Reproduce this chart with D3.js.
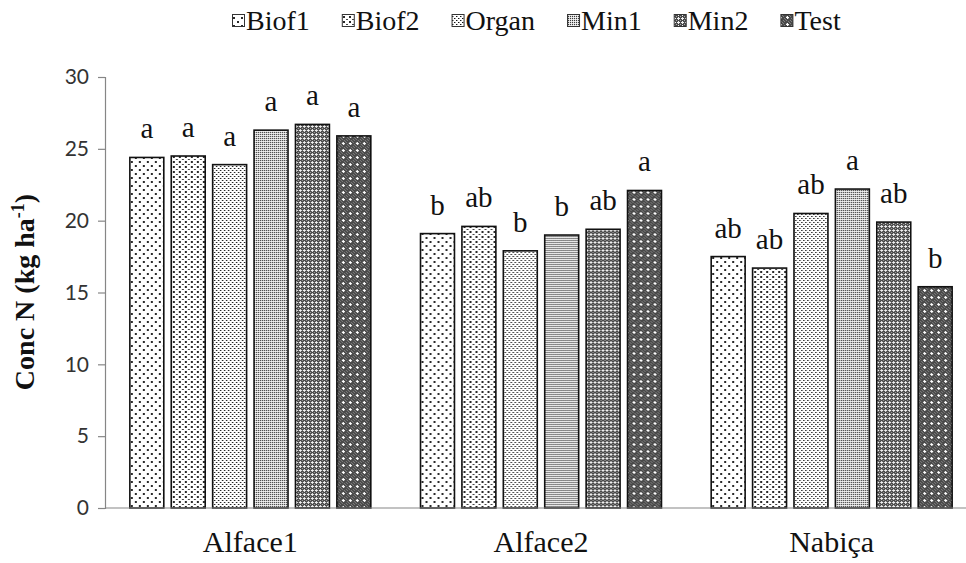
<!DOCTYPE html>
<html>
<head>
<meta charset="utf-8">
<script src="https://cdn.jsdelivr.net/npm/d3@7"></script>
<style>
  html, body { margin: 0; padding: 0; background: #fff; }
  svg { display: block; }
</style>
</head>
<body>
<svg id="chart" width="966" height="563"></svg>
<script>
// Crops and treatments
const crops = ["Alface1", "Alface2", "Nabiça"];
const treatments = ["Biof1", "Biof2", "Organ", "Min1", "Min2", "Test"];

// Nitrogen concentration (kg ha-1), one array per treatment, ordered by crop
const biof1 = [24.4, 19.1, 17.5];
const biof2 = [24.5, 19.6, 16.7];
const organ = [23.9, 17.9, 20.5];
const min1  = [26.3, 19.0, 22.2];
const min2  = [26.7, 19.4, 19.9];
const test  = [25.9, 22.1, 15.4];

// Significance letters, one array per treatment, ordered by crop
const lettersBiof1 = ["a", "b", "ab"];
const lettersBiof2 = ["a", "ab", "ab"];
const lettersOrgan = ["a", "b", "ab"];
const lettersMin1  = ["a", "b", "a"];
const lettersMin2  = ["a", "ab", "ab"];
const lettersTest  = ["a", "a", "b"];

const yTicks = [0, 5, 10, 15, 20, 25, 30];

const seriesValues = [biof1, biof2, organ, min1, min2, test];
const seriesLetters = [lettersBiof1, lettersBiof2, lettersOrgan, lettersMin1, lettersMin2, lettersTest];

const rows = [];
crops.forEach((c, ci) => {
  treatments.forEach((t, ti) => {
    rows.push({ crop: c, treatment: t, value: seriesValues[ti][ci], letter: seriesLetters[ti][ci] });
  });
});

const svg = d3.select("#chart");
const serif = "'Liberation Serif', 'Times New Roman', serif";
const sans = "Lato, Carlito, 'Liberation Sans', sans-serif";

// Fill patterns, lightest to darkest
const defs = svg.append("defs");
const grey = "#808080";
const patternSpecs = {
  Biof1: { w: 8, h: 8, bg: "#ffffff", px: [[1, 1, 1.5, 1.5, "#2a2a2a"], [5, 5, 1.5, 1.5, "#2a2a2a"]] },
  Biof2: { w: 6, h: 5, bg: "#ffffff", px: [[1, 1, 1.5, 1.5, "#2a2a2a"], [4, 3.5, 1.5, 1.5, "#444"]] },
  Organ: { w: 4, h: 4, bg: "#ffffff", px: [[0, 0, 1, 1, "#111"], [2, 2, 1, 1, "#111"], [1, 0, 1, 1, "#999"], [3, 2, 1, 1, "#999"]] },
  Min1:  { w: 2, h: 2, bg: "#d8d8d8", px: [[0, 0, 1, 1, "#3a3a3a"], [1, 1, 1, 1, "#f4f4f4"]] },
  Min2:  { w: 4, h: 4, bg: "#4a4a4a", px: [[2, 1, 1, 3, "#f0f0f0"], [1, 2, 3, 1, "#f0f0f0"], [0, 0, 1, 1, "#aaa"]] },
  Test:  { w: 7, h: 7, bg: "#4a4a4a", px: [[0, 0, 1, 1, grey], [2, 2, 1, 1, grey], [4, 4, 1, 1, grey], [6, 6, 1, 1, grey], [4, 0, 1, 1, grey], [0, 4, 1, 1, grey], [2, 6, 1, 1, grey], [6, 2, 1, 1, grey], [1, 5, 1, 1, grey], [5, 1, 1, 1, grey], [3, 2, 1, 3, "#ffffff"], [2, 3, 3, 1, "#ffffff"]] }
};
treatments.forEach(t => {
  const s = patternSpecs[t];
  const p = defs.append("pattern")
    .attr("id", "pat-" + t)
    .attr("patternUnits", "userSpaceOnUse")
    .attr("width", s.w).attr("height", s.h);
  p.append("rect").attr("width", s.w).attr("height", s.h).attr("fill", s.bg);
  s.px.forEach(([x, y, w, h, c]) => {
    p.append("rect").attr("x", x).attr("y", y).attr("width", w).attr("height", h)
      .attr("fill", c).attr("shape-rendering", "crispEdges");
  });
});

// Scales
const x0 = d3.scaleBand().domain(crops).range([105, 977]).paddingInner(0.171).paddingOuter(0.0855);
const x1 = d3.scaleBand().domain(treatments).range([0, x0.bandwidth()]).paddingInner(0.18).paddingOuter(0);
const y = d3.scaleLinear().domain([0, 30]).range([508, 77]);

// Y axis
const yAxis = svg.append("g")
  .attr("transform", "translate(105,0)")
  .call(d3.axisLeft(y).tickValues(yTicks).tickSize(7).tickPadding(9).tickFormat(d3.format("d")));
yAxis.select(".domain").attr("stroke", "#868686").attr("stroke-width", 1.2);
yAxis.selectAll(".tick line").attr("stroke", "#868686").attr("stroke-width", 1.2);
yAxis.selectAll(".tick text")
  .attr("font-family", sans).attr("font-size", 21).attr("fill", "#333");

// Bars
const groups = svg.append("g").selectAll("g")
  .data(crops).join("g")
  .attr("transform", d => `translate(${x0(d)},0)`);

groups.selectAll("rect")
  .data(c => rows.filter(r => r.crop === c))
  .join("rect")
  .attr("x", d => x1(d.treatment))
  .attr("y", d => y(d.value))
  .attr("width", x1.bandwidth())
  .attr("height", d => y(0) - y(d.value))
  .attr("fill", d => `url(#pat-${d.treatment})`)
  .attr("stroke", "#111")
  .attr("stroke-width", 1.6);

// Significance letters
groups.selectAll("text")
  .data(c => rows.filter(r => r.crop === c))
  .join("text")
  .attr("x", d => x1(d.treatment) + x1.bandwidth() / 2)
  .attr("y", d => y(d.value) - 19)
  .attr("text-anchor", "middle")
  .attr("font-family", serif).attr("font-size", 29).attr("fill", "#111")
  .text(d => d.letter);

// X axis line (no ticks)
svg.append("line")
  .attr("x1", 105).attr("x2", 977)
  .attr("y1", y(0)).attr("y2", y(0))
  .attr("stroke", "#868686").attr("stroke-width", 1.2);

// Category labels
svg.append("g").selectAll("text")
  .data(crops).join("text")
  .attr("x", d => x0(d) + x0.bandwidth() / 2)
  .attr("y", 552)
  .attr("text-anchor", "middle")
  .attr("font-family", serif).attr("font-size", 30).attr("fill", "#111")
  .text(d => d);

// Y axis title
const yTitle = svg.append("text")
  .attr("transform", "translate(34,292) rotate(-90)")
  .attr("text-anchor", "middle")
  .attr("font-family", serif).attr("font-size", 28).attr("font-weight", "bold").attr("fill", "#111");
yTitle.append("tspan").text("Conc N (kg ha");
yTitle.append("tspan").attr("font-size", 18).attr("dy", -10).text("-1");
yTitle.append("tspan").attr("dy", 10).text(")");

// Legend
const legend = svg.append("g");
let lx = 232;
treatments.forEach(t => {
  const item = legend.append("g");
  item.append("rect")
    .attr("x", lx + 0.5).attr("y", 14.5).attr("width", 12).attr("height", 12)
    .attr("fill", `url(#pat-${t})`).attr("stroke", "#333").attr("stroke-width", 1);
  const txt = item.append("text")
    .attr("x", lx + 14).attr("y", 30)
    .attr("font-family", serif).attr("font-size", 28).attr("fill", "#111")
    .text(t);
  lx += 14 + txt.node().getComputedTextLength() + 32;
});
</script>
</body>
</html>
